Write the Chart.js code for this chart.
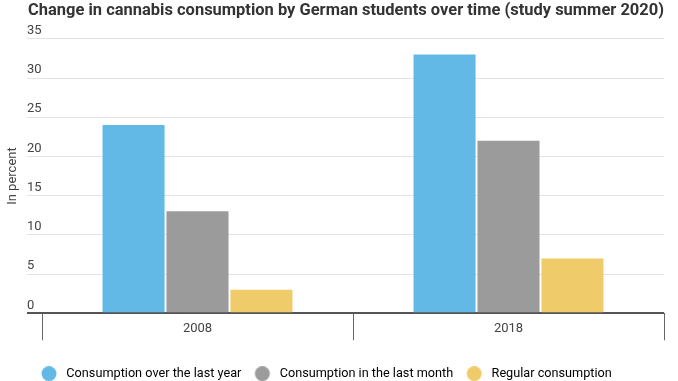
<!DOCTYPE html>
<html>
<head>
<meta charset="utf-8">
<script src="https://cdn.jsdelivr.net/npm/chart.js@4.4.1/dist/chart.umd.min.js"></script>
<style>
  html, body { margin: 0; padding: 0; background: #fff; }
  #wrap { width: 678px; height: 381px; }
</style>
</head>
<body>
<div id="wrap"><canvas id="cannabisChart" width="678" height="381"></canvas></div>
<script>
// Chart data
const years = ['2008', '2018'];
const lastYear = [24, 33];
const lastMonth = [13, 22];
const regular = [3, 7];
const seriesNames = ['Consumption over the last year', 'Consumption in the last month', 'Regular consumption'];
const seriesColors = ['#62B9E6', '#9B9B9B', '#F0CB69'];

// Legend dots: a 15px circle on a slightly wider canvas, so the text sits further right
function makeDot(color) {
    const c = document.createElement('canvas');
    c.width = 20;
    c.height = 15;
    const g = c.getContext('2d');
    g.fillStyle = color;
    g.beginPath();
    g.arc(9, 7.5, 7.5, 0, Math.PI * 2);
    g.fill();
    return c;
}
const dots = seriesColors.map(makeDot);

const ctx = document.getElementById('cannabisChart').getContext('2d');

// Dark line for the zero line, light for the rest
const gridColor = c => (c.tick && c.tick.value === 0) ? '#555555' : '#E3E3E3';
const gridWidth = c => (c.tick && c.tick.value === 0) ? 2 : 1;

new Chart(ctx, {
    type: 'bar',
    data: {
        labels: years,
        datasets: [lastYear, lastMonth, regular].map((values, i) => ({
            label: seriesNames[i],
            data: values,
            backgroundColor: seriesColors[i],
            borderWidth: 0,
            categoryPercentage: 0.617,
            barPercentage: 0.97
        }))
    },
    options: {
        responsive: false,
        animation: false,
        layout: { padding: { left: 28, right: 14, top: 0, bottom: -9 } },
        plugins: {
            title: {
                display: true,
                text: 'Change in cannabis consumption by German students over time (study summer 2020)',
                align: 'start',
                color: '#333333',
                font: { family: 'Roboto', size: 16.5, weight: 'bold' },
                padding: { top: 1, bottom: 18 }
            },
            legend: {
                position: 'bottom',
                align: 'start',
                labels: {
                    usePointStyle: true,
                    pointStyleWidth: 20,
                    padding: 12,
                    color: '#333333',
                    font: { family: 'Roboto', size: 12.7 },
                    generateLabels: chart => chart.data.datasets.map((ds, i) => ({
                        text: ds.label,
                        fillStyle: ds.backgroundColor,
                        strokeStyle: ds.backgroundColor,
                        lineWidth: 0,
                        pointStyle: dots[i],
                        hidden: false,
                        datasetIndex: i
                    }))
                }
            },
            tooltip: { enabled: false }
        },
        scales: {
            x: {
                afterFit: scale => { scale.height = 42; },
                grid: {
                    drawOnChartArea: false,
                    drawTicks: true,
                    tickLength: 27,
                    color: '#666666'
                },
                border: { display: false },
                ticks: {
                    autoSkip: false,
                    maxRotation: 0,
                    color: '#444444',
                    font: { family: 'Roboto', size: 13 },
                    padding: -19
                }
            },
            y: {
                min: 0,
                max: 35,
                afterFit: scale => { scale.width = 14; },
                border: { display: false },
                grid: {
                    color: gridColor,
                    lineWidth: gridWidth,
                    tickColor: gridColor,
                    tickWidth: gridWidth,
                    tickLength: 15
                },
                ticks: {
                    stepSize: 5,
                    mirror: true,
                    padding: -15,
                    labelOffset: -8,
                    color: '#444444',
                    font: { family: 'Roboto', size: 13 }
                },
                title: {
                    display: true,
                    text: 'In percent',
                    color: '#444444',
                    font: { family: 'Roboto', size: 13 },
                    padding: { top: -23, bottom: 0 }
                }
            }
        }
    }
});
</script>
</body>
</html>
